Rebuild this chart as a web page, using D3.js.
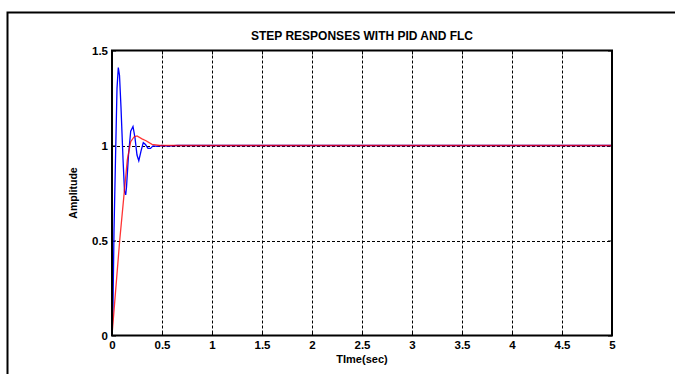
<!DOCTYPE html>
<html>
<head>
<meta charset="utf-8">
<script src="https://cdn.jsdelivr.net/npm/d3@7"></script>
<style>
  body { margin: 0; background: #fff; }
  text { font-family: Arial, "Liberation Sans", sans-serif; font-weight: bold; fill: #000; }
</style>
</head>
<body>
<svg id="chart" width="675" height="374"></svg>
<script>
// tick values
const timeTicks = [0, 0.5, 1, 1.5, 2, 2.5, 3, 3.5, 4, 4.5, 5];
const ampTicks = [0, 0.5, 1, 1.5];

// PID response (blue)
const pidTime = [0, 0.01, 0.02, 0.035, 0.05, 0.063, 0.075, 0.09, 0.11, 0.125, 0.137, 0.145, 0.165, 0.187, 0.21, 0.23, 0.25, 0.268, 0.29, 0.313, 0.335, 0.36, 0.385, 0.41, 0.45, 0.5, 0.56, 0.65, 5];
const pidAmp  = [0, 0.15, 0.55, 0.93, 1.3, 1.41, 1.37, 1.2, 0.93, 0.76, 0.74, 0.78, 0.95, 1.075, 1.1, 1.04, 0.95, 0.92, 0.97, 1.015, 1.005, 0.985, 0.985, 0.998, 0.995, 1.0, 0.997, 1.0, 1.0];

// FLC response (red)
const flcTime = [0, 0.077, 0.153, 0.187, 0.22, 0.25, 0.3, 0.34, 0.4, 0.48, 5];
const flcAmp  = [0, 0.5, 0.924, 1.02, 1.045, 1.05, 1.035, 1.025, 1.006, 1.0, 1.0];

const svg = d3.select('#chart');
svg.append('rect').attr('width', 675).attr('height', 374).attr('fill', '#fff');

// outer figure frame
svg.append('path')
  .attr('d', 'M7.5,374V12.5H675')
  .attr('fill', 'none').attr('stroke', '#000').attr('stroke-width', 2);

const pLeft = 112, pRight = 612, pTop = 50.5, pBottom = 335.5;
const x = d3.scaleLinear().domain([0, 5]).range([pLeft, pRight]);
const y = d3.scaleLinear().domain([0, 1.5]).range([pBottom, pTop]);

// grid
const grid = svg.append('g').attr('stroke', '#000').attr('stroke-width', 1).attr('stroke-dasharray', '3,2');
grid.selectAll('.vg').data(timeTicks.slice(1, -1)).enter().append('line')
  .attr('x1', d => Math.round(x(d)) + 0.5).attr('x2', d => Math.round(x(d)) + 0.5)
  .attr('y1', pTop).attr('y2', pBottom);
grid.selectAll('.hg').data(ampTicks.slice(1, -1)).enter().append('line')
  .attr('y1', d => Math.round(y(d)) + 0.5).attr('y2', d => Math.round(y(d)) + 0.5)
  .attr('x1', pLeft).attr('x2', pRight);

// axes (ticks point inward)
const fmt = d => String(d);
const xAxis = svg.append('g').attr('transform', `translate(0,${pBottom})`)
  .call(d3.axisBottom(x).tickValues(timeTicks).tickFormat(fmt).tickSizeInner(-4).tickSizeOuter(0).tickPadding(5));
const xTop = svg.append('g').attr('transform', `translate(0,${pTop})`)
  .call(d3.axisTop(x).tickValues(timeTicks).tickFormat('').tickSizeInner(-4).tickSizeOuter(0));
const yAxis = svg.append('g').attr('transform', `translate(${pLeft},0)`)
  .call(d3.axisLeft(y).tickValues(ampTicks).tickFormat(fmt).tickSizeInner(-4).tickSizeOuter(0).tickPadding(4));
const yRight = svg.append('g').attr('transform', `translate(${pRight},0)`)
  .call(d3.axisRight(y).tickValues(ampTicks).tickFormat('').tickSizeInner(-4).tickSizeOuter(0));

[xAxis, xTop, yAxis, yRight].forEach(g => {
  g.select('.domain').remove();
  g.selectAll('line').attr('stroke', '#000');
  g.selectAll('text').attr('font-size', 11.5).attr('font-family', null).attr('fill', '#000');
});

// curves
const line = d3.line().x(d => x(d[0])).y(d => y(d[1]));
svg.append('path')
  .datum(pidTime.map((t, i) => [t, pidAmp[i]]))
  .attr('d', line).attr('fill', 'none').attr('stroke', '#0000ff').attr('stroke-width', 1.3);
svg.append('path')
  .datum(flcTime.map((t, i) => [t, flcAmp[i]]))
  .attr('d', line).attr('fill', 'none').attr('stroke', '#ff0000').attr('stroke-opacity', 0.8).attr('stroke-width', 1.3);

// plot box
svg.append('rect')
  .attr('x', pLeft).attr('y', pTop).attr('width', pRight - pLeft).attr('height', pBottom - pTop)
  .attr('fill', 'none').attr('stroke', '#000').attr('stroke-width', 2);

// labels
svg.append('text').attr('x', (pLeft + pRight) / 2).attr('y', 40)
  .attr('text-anchor', 'middle').attr('font-size', 12)
  .text('STEP RESPONSES WITH PID AND FLC');
svg.append('text').attr('x', (pLeft + pRight) / 2).attr('y', 363)
  .attr('text-anchor', 'middle').attr('font-size', 11)
  .text('TIme(sec)');
svg.append('text')
  .attr('transform', `translate(77,${(pTop + pBottom) / 2}) rotate(-90)`)
  .attr('text-anchor', 'middle').attr('font-size', 10.5)
  .text('Amplitude');
</script>
</body>
</html>
